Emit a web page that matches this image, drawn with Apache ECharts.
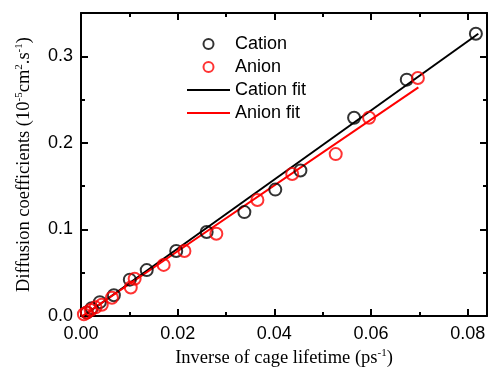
<!DOCTYPE html>
<html>
<head>
<meta charset="utf-8">
<script src="https://cdn.jsdelivr.net/npm/echarts@6/dist/echarts.min.js"></script>
<style>
html,body{margin:0;padding:0;background:#fff;}
#c{width:490px;height:367px;}
</style>
</head>
<body>
<div id="c"></div>
<script>
// Data
const cation = [[0.0817,0.326],[0.0674,0.273],[0.0565,0.229],[0.0454,0.168],[0.0402,0.146],[0.0338,0.120],[0.0260,0.097],[0.0197,0.075],[0.0136,0.053],[0.0101,0.042],[0.0068,0.024],[0.0039,0.016],[0.0022,0.009],[0.0012,0.004]];
const anion = [[0.0697,0.275],[0.0596,0.229],[0.0527,0.187],[0.0437,0.164],[0.0365,0.134],[0.0280,0.095],[0.0214,0.075],[0.0171,0.059],[0.0111,0.043],[0.0103,0.033],[0.0064,0.021],[0.0043,0.013],[0.0030,0.010],[0.0020,0.007],[0.0012,0.004],[0.0006,0.002]];
const cationFit = [[0.0005,0.0],[0.0822,0.326]];
const anionFit = [[0.0003,0.0],[0.0698,0.264]];
const xMajor = [0, 0.02, 0.04, 0.06, 0.08];
const xMinor = [0.01, 0.03, 0.05, 0.07];
const yMajor = [0, 0.1, 0.2, 0.3];
const yMinor = [0.05, 0.15, 0.25];
const seriesNames = ['Cation', 'Anion', 'Cation fit', 'Anion fit'];

const chart = echarts.init(document.getElementById('c'));
const sans = 'Liberation Sans';
const serif = 'Liberation Serif';
const X0 = 0, X1 = 0.084, Y0 = 0, Y1 = 0.35;
const titleStyle = {fontFamily: serif, fontSize: 18.5, color: '#000', lineHeight: 21,
  rich: {sup: {fontFamily: serif, fontSize: 11, lineHeight: 11, verticalAlign: 'top', color: '#000'}}};
function xAxisDef(pos, ticks, len, showLine, showLabel, withName) {
  const a = {
    type: 'value', position: pos, min: X0, max: X1,
    axisLine: {show: showLine, onZero: false, lineStyle: {color: '#000', width: 2}},
    axisTick: {show: true, inside: true, length: len, customValues: ticks, lineStyle: {color: '#000', width: 2}},
    axisLabel: {show: showLabel, customValues: xMajor, formatter: v => v.toFixed(2), fontFamily: sans, fontSize: 18, color: '#000', margin: 9},
    splitLine: {show: false}
  };
  if (withName) {
    a.name = 'Inverse of cage lifetime (ps{sup|-1})';
    a.nameLocation = 'middle';
    a.nameGap = 30;
    a.nameTextStyle = titleStyle;
  }
  return a;
}
function yAxisDef(pos, ticks, len, showLine, showLabel, withName) {
  const a = {
    type: 'value', position: pos, min: Y0, max: Y1,
    axisLine: {show: showLine, onZero: false, lineStyle: {color: '#000', width: 2}},
    axisTick: {show: true, inside: true, length: len, customValues: ticks, lineStyle: {color: '#000', width: 2}},
    axisLabel: {show: showLabel, customValues: yMajor, formatter: v => v.toFixed(1), fontFamily: sans, fontSize: 18, color: '#000', margin: 8},
    splitLine: {show: false}
  };
  if (withName) {
    a.name = 'Diffusion coefficients (10{sup|-5}cm{sup|2}.s{sup|-1})';
    a.nameLocation = 'middle';
    a.nameGap = 46;
    a.nameTextStyle = titleStyle;
  }
  return a;
}
const lineIcon = 'path://M0,0 L43,0 L43,2 L0,2 Z';

chart.setOption({
  animation: false,
  backgroundColor: '#fff',
  grid: {left: 81, right: 3, top: 13, bottom: 51, containLabel: false, outerBoundsMode: 'none'},
  xAxis: [
    xAxisDef('bottom', xMajor, 7, true, true, true),
    xAxisDef('bottom', xMinor, 4, false, false, false),
    xAxisDef('top', xMajor, 7, true, false, false),
    xAxisDef('top', xMinor, 4, false, false, false)
  ],
  yAxis: [
    yAxisDef('left', yMajor, 7, true, true, true),
    yAxisDef('left', yMinor, 4, false, false, false),
    yAxisDef('right', yMajor, 7, true, false, false),
    yAxisDef('right', yMinor, 4, false, false, false)
  ],
  legend: {
    orient: 'vertical', left: 187, top: 35, padding: 0, itemGap: 5,
    itemWidth: 43, itemHeight: 10,
    textStyle: {fontFamily: sans, fontSize: 18, color: '#000', lineHeight: 18},
    data: [
      {name: seriesNames[0]},
      {name: seriesNames[1]},
      {name: seriesNames[2], icon: lineIcon},
      {name: seriesNames[3], icon: lineIcon}
    ]
  },
  series: [
    {name: seriesNames[0], type: 'scatter', data: cation, symbol: 'circle', symbolSize: 12,
     itemStyle: {color: 'rgba(0,0,0,0)', borderColor: '#000', borderWidth: 2}, z: 3},
    {name: seriesNames[1], type: 'scatter', data: anion, symbol: 'circle', symbolSize: 12,
     itemStyle: {color: 'rgba(0,0,0,0)', borderColor: '#ff0000', borderWidth: 2}, z: 3},
    {name: seriesNames[2], type: 'line', data: cationFit, symbol: 'none', lineStyle: {color: '#000', width: 2}, itemStyle: {color: '#000'}, z: 2},
    {name: seriesNames[3], type: 'line', data: anionFit, symbol: 'none', lineStyle: {color: '#ff0000', width: 2}, itemStyle: {color: '#ff0000'}, z: 2}
  ]
});
</script>
</body>
</html>
